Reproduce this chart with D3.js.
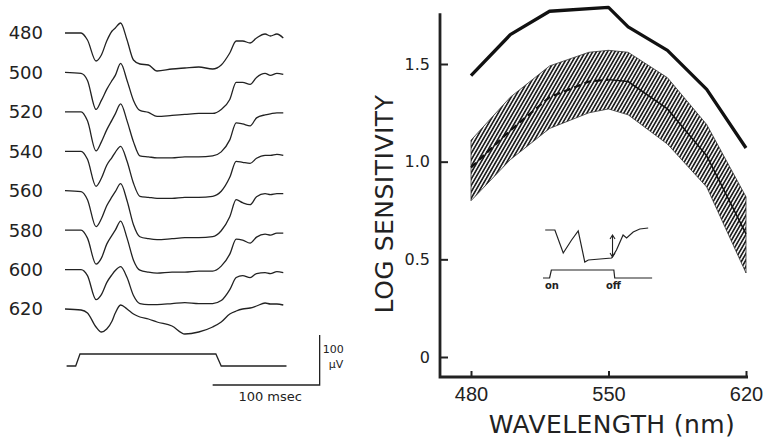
<!DOCTYPE html>
<html>
<head>
<meta charset="utf-8">
<script src="https://cdn.jsdelivr.net/npm/d3@7"></script>
<style>
  body { margin: 0; background: #fff; }
  text { font-family: "DejaVu Sans", sans-serif; fill: #222; }
</style>
</head>
<body>
<script>
// ---- left panel: responses to each wavelength (deflection in uV, up = positive)
var traceLabels = ["480", "500", "520", "540", "560", "580", "600", "620"];
var traceTimes = [0, 15, 21, 29, 34, 39, 44, 47, 52, 58, 64, 70, 78, 86, 100, 112, 125, 138, 146, 154, 160, 166, 173, 179, 187, 192, 198, 204];
var trace480 = [0, 0, -14, -56, -44, -16, 4, 10, 20, -14, -54, -62, -64, -76, -72, -70, -68, -72, -64, -40, -16, -16, -20, -10, -2, -6, -2, -10];
var trace500 = [0, -2, -16, -74, -56, -34, -16, -6, 18, -16, -56, -76, -80, -88, -86, -84, -82, -82, -74, -54, -20, -20, -24, -10, -2, -6, -2, -4];
var trace520 = [0, 0, -18, -78, -60, -36, -16, -4, 16, -18, -60, -88, -90, -92, -92, -90, -90, -88, -80, -56, -22, -24, -28, -12, -6, -4, -2, -2];
var trace540 = [0, 0, -16, -70, -54, -28, -12, -2, 10, -20, -64, -90, -92, -94, -94, -92, -92, -90, -80, -52, -20, -22, -24, -14, -8, -8, -6, -8];
var trace560 = [0, -2, -18, -72, -56, -30, -12, -2, 14, -20, -68, -92, -96, -98, -96, -94, -94, -92, -80, -52, -18, -24, -28, -12, -6, -8, -6, -6];
var trace580 = [0, 0, -16, -68, -56, -28, -10, 0, 18, -16, -60, -80, -84, -86, -84, -84, -82, -82, -72, -48, -18, -20, -26, -14, -8, -10, -6, -6];
var trace600 = [0, 0, -12, -60, -50, -26, -10, -2, 6, -16, -52, -68, -70, -70, -68, -66, -68, -68, -62, -40, -16, -12, -16, -8, -6, -8, -4, -6];
var trace620 = [0, -2, -8, -36, -46, -40, -24, -8, 8, 0, -10, -16, -20, -26, -34, -50, -46, -36, -26, -10, -4, 0, 2, 6, 12, 10, 10, 8];
var traces = [trace480, trace500, trace520, trace540, trace560, trace580, trace600, trace620];

// stimulus marker (0 = off, 1 = on)
var stimTimes = [1.5, 10, 14, 141, 146, 207];
var stimLevels = [0, 0, 1, 1, 0, 0];

// calibration bars
var barMs = 100;
var barUV = 100;

// ---- right panel: log sensitivity vs wavelength
var upperWl = [480, 500, 520, 550, 560, 580, 600, 620];
var upperLog = [1.44, 1.65, 1.77, 1.79, 1.69, 1.57, 1.37, 1.07];

var bandWl = [480, 500, 520, 540, 550, 560, 580, 600, 620];
var bandHigh = [1.11, 1.33, 1.49, 1.56, 1.57, 1.56, 1.43, 1.19, 0.82];
var bandMean = [0.97, 1.16, 1.33, 1.41, 1.42, 1.41, 1.27, 1.03, 0.63];
var bandLow = [0.80, 1.01, 1.17, 1.25, 1.27, 1.24, 1.09, 0.87, 0.43];

var xTicks = [480, 550, 620];
var yTicks = [0, 0.5, 1.0, 1.5];

// inset: measuring the off response
var insetTimes = [5, 27, 46, 65, 80, 95, 103, 156, 167, 182, 190, 205, 220, 239];
var insetValues = [0, 0, -23, -10, -1, -32, -30, -28, -20, -5, -8, -2, 1, 2];
var insetStimTimes = [0, 15, 19, 161, 163, 248];
var insetStimLevels = [0, 0, 1, 1, 0, 0];

var width = 766, height = 441;

var svg = d3.select("body").append("svg")
    .attr("width", width)
    .attr("height", height);

var ink = "#222";

// ---------------- left panel
var tScale = d3.scaleLinear().domain([0, 100]).range([65, 172]);
var rowScale = d3.scalePoint().domain(traceLabels).range([33, 309]);
var uvScale = d3.scaleLinear().domain([0, 100]).range([0, 50]);

var left = svg.append("g");

left.selectAll("text.wl")
    .data(traceLabels)
    .enter().append("text")
    .attr("class", "wl")
    .attr("x", 43)
    .attr("y", function (d) { return rowScale(d); })
    .attr("dy", "0.36em")
    .attr("text-anchor", "end")
    .style("font-size", "18px")
    .text(function (d) { return d; });

traces.forEach(function (vals, i) {
    var base = rowScale(traceLabels[i]);
    var line = d3.line()
        .x(function (d, j) { return tScale(traceTimes[j]); })
        .y(function (d) { return base - uvScale(d); })
        .curve(d3.curveMonotoneX);
    left.append("path")
        .attr("d", line(vals))
        .attr("fill", "none")
        .attr("stroke", ink)
        .attr("stroke-width", 1.3);
});

var stimLow = 366, stimHigh = 354;
var stimLine = d3.line()
    .x(function (d, j) { return tScale(stimTimes[j]); })
    .y(function (d) { return d ? stimHigh : stimLow; });
left.append("path")
    .attr("d", stimLine(stimLevels))
    .attr("fill", "none")
    .attr("stroke", ink)
    .attr("stroke-width", 1.3);

// calibration bars
var barX = tScale(238), barY = 385;
left.append("path")
    .attr("d", "M" + tScale(238 - barMs) + "," + barY + "H" + barX + "V" + (barY - uvScale(barUV)))
    .attr("fill", "none")
    .attr("stroke", ink)
    .attr("stroke-width", 1.3);
left.append("text").attr("x", barX + 3).attr("y", 353)
    .style("font-size", "11px").text("100");
left.append("text").attr("x", barX + 9).attr("y", 368)
    .style("font-size", "11px").text("\u03bcV");
left.append("text").attr("x", tScale(238 - barMs / 2) + 4).attr("y", 401)
    .attr("text-anchor", "middle")
    .style("font-size", "13px").text("100 msec");

// ---------------- right panel
var x = d3.scaleLinear().domain([480, 620]).range([471, 746]);
var y = d3.scaleLinear().domain([0, 1.5]).range([357, 64]);
var axisX = 440, axisY = 377;

var right = svg.append("g");

var defs = svg.append("defs");
defs.append("pattern")
    .attr("id", "hatch")
    .attr("patternUnits", "userSpaceOnUse")
    .attr("width", 3.2)
    .attr("height", 3.2)
    .attr("patternTransform", "rotate(30)")
    .append("line")
    .attr("x1", 1.6).attr("y1", 0)
    .attr("x2", 1.6).attr("y2", 3.2)
    .attr("stroke", "#1e1e1e")
    .attr("stroke-width", 1.7);

var band = d3.area()
    .x(function (d, i) { return x(bandWl[i]); })
    .y0(function (d, i) { return y(bandLow[i]); })
    .y1(function (d, i) { return y(bandHigh[i]); });

right.append("path")
    .attr("d", band(bandWl))
    .attr("fill", "url(#hatch)")
    .attr("stroke", "#333")
    .attr("stroke-width", 0.8);

// mean curve: dashed up to 550, solid afterwards
var meanLine = d3.line()
    .x(function (d) { return x(d[0]); })
    .y(function (d) { return y(d[1]); });
var meanPts = bandWl.map(function (w, i) { return [w, bandMean[i]]; });
right.append("path")
    .attr("d", meanLine(meanPts.filter(function (d) { return d[0] <= 550; })))
    .attr("fill", "none")
    .attr("stroke", "#111")
    .attr("stroke-width", 2.2)
    .attr("stroke-dasharray", "7,4");
right.append("path")
    .attr("d", meanLine(meanPts.filter(function (d) { return d[0] >= 550; })))
    .attr("fill", "none")
    .attr("stroke", "#111")
    .attr("stroke-width", 1.5);

right.append("path")
    .attr("d", meanLine(upperWl.map(function (w, i) { return [w, upperLog[i]]; })))
    .attr("fill", "none")
    .attr("stroke", "#111")
    .attr("stroke-width", 3.3)
    .attr("stroke-linejoin", "round");

// axes
var yAxis = d3.axisLeft(y)
    .tickValues(yTicks)
    .tickSize(-8)
    .tickPadding(10)
    .tickFormat(function (d) { return d === 0 ? "0" : d3.format(".1f")(d); });
var gy = right.append("g")
    .attr("transform", "translate(" + axisX + ",0)")
    .call(yAxis);
gy.select(".domain").remove();
gy.selectAll("line").attr("stroke", ink).attr("stroke-width", 2);
gy.selectAll("text")
    .style("font-family", "'DejaVu Sans', sans-serif")
    .style("font-size", "16px")
    .attr("fill", ink);

var xAxis = d3.axisBottom(x)
    .tickValues(xTicks)
    .tickSize(-6)
    .tickPadding(10);
var gx = right.append("g")
    .attr("transform", "translate(0," + axisY + ")")
    .call(xAxis);
gx.select(".domain").remove();
gx.selectAll("line").attr("stroke", ink).attr("stroke-width", 2);
gx.selectAll("text")
    .style("font-family", "'Liberation Sans', sans-serif")
    .style("font-size", "20px")
    .attr("fill", ink);

right.append("path")
    .attr("d", "M" + axisX + "," + y(1.76) + "V" + axisY + "H" + (x(620) + 2))
    .attr("fill", "none")
    .attr("stroke", ink)
    .attr("stroke-width", 2.8);

right.append("text")
    .attr("x", 612)
    .attr("y", 433)
    .attr("text-anchor", "middle")
    .style("font-size", "25px")
    .style("letter-spacing", "0.4px")
    .text("WAVELENGTH (nm)");

right.append("text")
    .attr("transform", "translate(393,204) rotate(-90)")
    .attr("text-anchor", "middle")
    .style("font-size", "25px")
    .style("letter-spacing", "0.5px")
    .text("LOG SENSITIVITY");

// inset
var ix = d3.scaleLinear().domain([0, 100]).range([543, 587]);
var iy = d3.scaleLinear().domain([0, -30]).range([230, 260]);
var inset = right.append("g");
inset.append("path")
    .attr("d", d3.line()
        .x(function (d, j) { return ix(insetTimes[j]); })
        .y(function (d) { return iy(d); })(insetValues))
    .attr("fill", "none")
    .attr("stroke", ink)
    .attr("stroke-width", 1.2);
inset.append("path")
    .attr("d", d3.line()
        .x(function (d, j) { return ix(insetStimTimes[j]); })
        .y(function (d) { return d ? 270 : 278; })(insetStimLevels))
    .attr("fill", "none")
    .attr("stroke", ink)
    .attr("stroke-width", 1.2);

var arrX = ix(158), arrTop = iy(-5), arrBot = iy(-27);
inset.append("path")
    .attr("d", "M" + arrX + "," + arrTop + "V" + arrBot +
        "M" + (arrX - 2.5) + "," + (arrTop + 4) + "L" + arrX + "," + arrTop + "L" + (arrX + 2.5) + "," + (arrTop + 4) +
        "M" + (arrX - 2.5) + "," + (arrBot - 4) + "L" + arrX + "," + arrBot + "L" + (arrX + 2.5) + "," + (arrBot - 4))
    .attr("fill", "none")
    .attr("stroke", ink)
    .attr("stroke-width", 1.1);

inset.append("text").attr("x", 545).attr("y", 289)
    .style("font-size", "10px").style("font-weight", "bold").text("on");
inset.append("text").attr("x", 606).attr("y", 289)
    .style("font-size", "10px").style("font-weight", "bold").text("off");
</script>
</body>
</html>
